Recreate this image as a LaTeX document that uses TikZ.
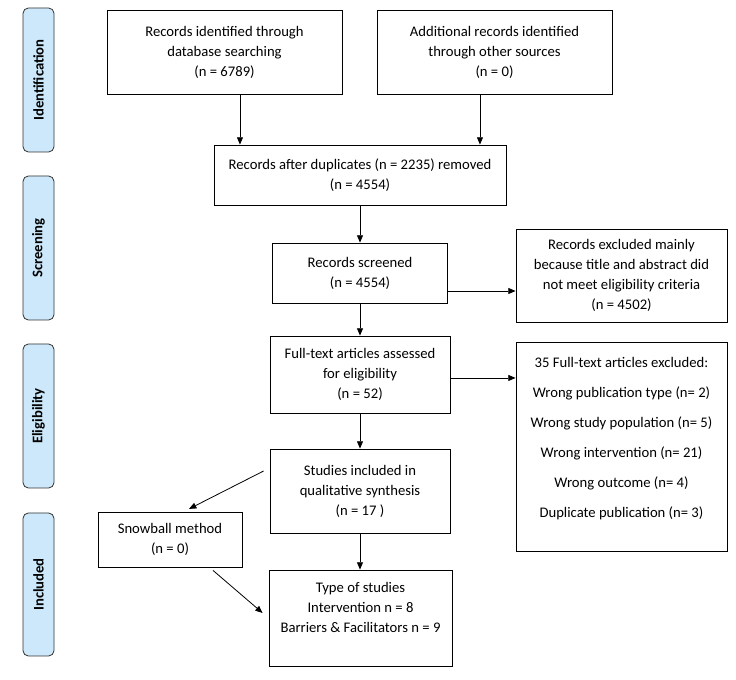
\documentclass[tikz,border=0pt]{standalone}
\usepackage{fontspec}
\setmainfont{Carlito}
\usepackage{tikz}
\usetikzlibrary{arrows.meta}
\definecolor{phaseblue}{RGB}{204,232,250}

\begin{document}
\begin{tikzpicture}[x=0.75pt,y=-0.75pt,
        box/.style={draw,line width=0.6pt,align=center,inner sep=2pt,font=\fontsize{11}{15}\selectfont},
        phase/.style={draw=black!80,fill=phaseblue,rounded corners=4pt,line width=0.6pt,rotate=90,
            minimum height=23.25pt,font=\bfseries\fontsize{11}{13}\selectfont},
        arr/.style={-{Triangle[length=5.5pt,width=4.5pt]},line width=0.6pt}]
        \useasboundingbox (0,0) rectangle (736,680);
        % Draw the phase labels on the left
        \node[phase,minimum width=108pt] (ident) at (38.5,80) {Identification};
        \node[phase,minimum width=108pt] (screen) at (38.5,248) {Screening};
        \node[phase,minimum width=108pt] (elig) at (38.5,416) {Eligibility};
        \node[phase,minimum width=107.25pt] (incl) at (38.5,584.5) {Included};
        % Identification boxes
        \node[box,minimum width=176.25pt,minimum height=63pt] (dbase) at (224.5,52) {Records identified through\\database searching\\(n = 6789)};
        \node[box,minimum width=176.25pt,minimum height=63pt] (other) at (494.5,52) {Additional records identified\\through other sources\\(n = 0)};
        \node[box,minimum width=219pt,minimum height=45pt] (dupl) at (360,175) {Records after duplicates (n = 2235) removed\\(n = 4554)};
        % Screening boxes
        \node[box,minimum width=131.25pt,minimum height=45pt] (scrd) at (360,273) {Records screened\\(n = 4554)};
        \node[box,minimum width=158.25pt,minimum height=69.75pt] (excla) at (621.5,275.5) {Records excluded mainly\\because title and abstract did\\not meet eligibility criteria\\(n = 4502)};
        % Eligibility boxes
        \node[box,minimum width=135pt,minimum height=57.75pt] (full) at (360,374.5) {Full-text articles assessed\\for eligibility\\(n = 52)};
        \node[box,minimum width=158.25pt,minimum height=156.75pt] (exclb) at (621.5,446.5) {};
        \node[align=center,anchor=north,font=\fontsize{11}{15}\selectfont] (exclbtxt) at ([yshift=-8pt]exclb.north)
            {35 Full-text articles excluded:\\[7.5pt]Wrong publication type (n= 2)\\[7.5pt]Wrong study population (n= 5)\\[7.5pt]Wrong intervention (n= 21)\\[7.5pt]Wrong outcome (n= 4)\\[7.5pt]Duplicate publication (n= 3)};
        % Included boxes
        \node[box,minimum width=135pt,minimum height=63pt] (qual) at (360,491) {Studies included in\\qualitative synthesis\\(n = 17 )};
        \node[box,minimum width=108pt,minimum height=41.25pt] (snow) at (170,539.5) {Snowball method\\(n = 0)};
        \node[box,minimum width=137.25pt,minimum height=72pt] (types) at (360.5,618) {};
        \node[align=center,anchor=north,font=\fontsize{11}{15}\selectfont] (typestxt) at ([yshift=-6pt]types.north)
            {Type of studies\\Intervention n = 8\\Barriers \& Facilitators n = 9};
        % Arrows
        \draw[arr] ([xshift=11.6pt]dbase.south) -- ([xshift=11.6pt]dbase.south |- dupl.north);
        \draw[arr] ([xshift=-10.9pt]other.south) -- ([xshift=-10.9pt]other.south |- dupl.north);
        \draw[arr] (dupl.south) -- (scrd.north);
        \draw[arr] ([yshift=-13.5pt]scrd.east) -- ([yshift=-13.5pt]scrd.east -| excla.west);
        \draw[arr] (scrd.south) -- (full.north);
        \draw[arr] ([yshift=-2.6pt]full.east) -- ([yshift=-2.6pt]full.east -| exclb.west);
        \draw[arr] (full.south) -- (qual.north);
        \draw[arr] (qual.south) -- (qual.south |- types.north);
        \draw[arr] ([xshift=-4.5pt,yshift=15pt]qual.west) -- ([xshift=14.25pt,yshift=2pt]snow.north);
        \draw[arr] ([xshift=32.25pt,yshift=-2.25pt]snow.south) -- ([xshift=-4.5pt,yshift=3.75pt]types.west);
    \end{tikzpicture}
\end{document}
